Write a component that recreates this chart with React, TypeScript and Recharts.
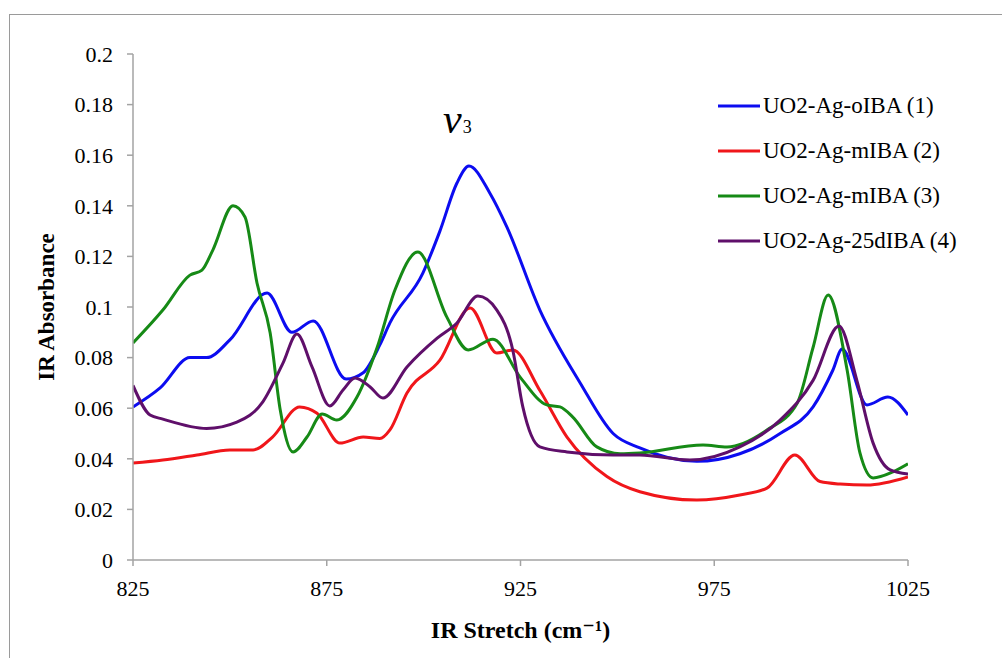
import { LineChart, Line, XAxis, YAxis, ReferenceDot } from "recharts";

const X_TICKS = [825, 875, 925, 975, 1025];
const Y_TICKS = [0, 0.02, 0.04, 0.06, 0.08, 0.1, 0.12, 0.14, 0.16, 0.18, 0.2];

const BLUE_X = [825, 832, 839.7, 844, 850, 859.6, 866, 871.5, 880, 884.4, 888.7, 891.3, 899.8, 904.2, 908.6, 911.7, 917.1, 921.5, 930, 940.4, 948.9, 955.8, 970.5, 981.6, 992, 1000.5, 1005.6, 1008, 1014.4, 1019.8, 1025];
const BLUE_Y = [0.0605, 0.068, 0.08, 0.08, 0.087, 0.1055, 0.09, 0.0945, 0.0715, 0.074, 0.085, 0.0937, 0.1134, 0.13, 0.149, 0.1557, 0.145, 0.1316, 0.0988, 0.07, 0.05, 0.0443, 0.039, 0.042, 0.05, 0.0605, 0.075, 0.0834, 0.0613, 0.0644, 0.0573];

const RED_X = [825, 832.7, 841.5, 850, 856, 861, 868, 872.5, 878.4, 884.4, 888.7, 891.3, 895.7, 904.2, 912, 918.9, 923, 930, 937, 947.3, 955.8, 970.5, 981.6, 988.6, 995.8, 1002.3, 1007.5, 1014.4, 1025];
const RED_Y = [0.0383, 0.0395, 0.0415, 0.0435, 0.0435, 0.0486, 0.0605, 0.058, 0.0462, 0.0486, 0.048, 0.0514, 0.066, 0.079, 0.0996, 0.0818, 0.083, 0.067, 0.0486, 0.033, 0.027, 0.0237, 0.0257, 0.0284, 0.0415, 0.031, 0.03, 0.0296, 0.0328];

const GREEN_X = [825, 832.7, 839.7, 842.8, 845.6, 850.8, 853.9, 857, 860.4, 863, 866.3, 869.9, 873.8, 877.6, 882.8, 888, 892.6, 898.5, 906, 911.5, 917.9, 924.9, 931.8, 935.2, 938.5, 944.7, 950.7, 955.8, 972.1, 978.3, 988.6, 996.4, 1000.5, 1004.4, 1009.3, 1012.6, 1016, 1021.1, 1025];
const GREEN_Y = [0.0858, 0.0988, 0.1126, 0.1146, 0.1225, 0.14, 0.1356, 0.1095, 0.0897, 0.0593, 0.0427, 0.0486, 0.0577, 0.0553, 0.0644, 0.084, 0.1067, 0.1217, 0.096, 0.083, 0.0873, 0.0723, 0.0613, 0.0605, 0.0565, 0.0447, 0.042, 0.0423, 0.0455, 0.0447, 0.0514, 0.062, 0.084, 0.1047, 0.075, 0.0423, 0.0324, 0.0348, 0.038];

const PURPLE_X = [825, 829.4, 832.7, 844, 851.8, 858.5, 863.7, 867.3, 871.2, 875.8, 879.2, 882.3, 886.2, 889.5, 895.7, 903.5, 908.6, 914, 918.9, 923, 925.6, 930, 937, 948.9, 955.8, 968.7, 981.6, 992, 1000.5, 1007.2, 1011.8, 1016, 1020.4, 1025];
const PURPLE_Y = [0.069, 0.0573, 0.0557, 0.052, 0.0545, 0.0625, 0.0778, 0.0893, 0.0763, 0.0609, 0.0672, 0.0719, 0.0684, 0.064, 0.0763, 0.0877, 0.0937, 0.1043, 0.0988, 0.083, 0.0605, 0.0447, 0.0427, 0.0415, 0.0415, 0.0395, 0.0447, 0.0553, 0.071, 0.0925, 0.071, 0.0462, 0.0356, 0.034];

const SERIES = [
  { name: "UO2-Ag-oIBA (1)", color: "#0c0cf0", xs: BLUE_X, ys: BLUE_Y },
  { name: "UO2-Ag-mIBA (2)", color: "#f0161a", xs: RED_X, ys: RED_Y },
  { name: "UO2-Ag-mIBA (3)", color: "#168a16", xs: GREEN_X, ys: GREEN_Y },
  { name: "UO2-Ag-25dIBA (4)", color: "#5f0f6a", xs: PURPLE_X, ys: PURPLE_Y },
];

const FONT = "Liberation Serif, DejaVu Serif, serif";
const AXIS_GREY = "#a3a3a3";

const toRows = (xs: number[], ys: number[]) => xs.map((x, i) => ({ x, y: ys[i] }));

// legend drawn as plain html so it does not eat into the plot area
function LegendBox() {
  return (
    <div
      style={{
        position: "absolute",
        left: 716,
        top: 83,
        fontFamily: FONT,
        fontSize: 23,
        color: "#000",
      }}
    >
      {SERIES.map((s) => (
        <div key={s.name} style={{ display: "flex", alignItems: "center", height: 45 }}>
          <svg width={46} height={6} style={{ marginRight: 1 }}>
            <line x1={2} y1={3} x2={44} y2={3} stroke={s.color} strokeWidth={3} />
          </svg>
          <span style={{ whiteSpace: "nowrap" }}>{s.name}</span>
        </div>
      ))}
    </div>
  );
}

function NuLabel(props: { viewBox?: { x?: number; y?: number } }) {
  const x = props.viewBox?.x ?? 0;
  const y = props.viewBox?.y ?? 0;
  return (
    <text x={x} y={y} fontFamily={FONT} fill="#000">
      <tspan fontSize={42} fontStyle="italic">ν</tspan>
      <tspan fontSize={18} dx={1}>3</tspan>
    </text>
  );
}

export default function App() {
  return (
    <div
      style={{
        position: "absolute",
        left: 0,
        top: 0,
        width: 1002,
        height: 658,
        background: "#fff",
        overflow: "hidden",
        fontFamily: FONT,
      }}
    >
      <div
        style={{
          position: "absolute",
          left: 9,
          top: 14,
          width: 993,
          height: 644,
          borderLeft: "1.5px solid #9a9a9a",
          borderTop: "1.5px solid #9a9a9a",
        }}
      />
      <LineChart
        width={1002}
        height={658}
        margin={{ top: 54, right: 94, bottom: 0, left: 0 }}
        style={{ fontFamily: FONT }}
      >
        <XAxis
          type="number"
          dataKey="x"
          domain={[825, 1025]}
          ticks={X_TICKS}
          allowDataOverflow
          height={98}
          stroke={AXIS_GREY}
          strokeWidth={1.5}
          tickSize={6}
          tickMargin={14}
          tick={{ fill: "#000", fontSize: 22, fontFamily: FONT }}
          label={{
            value: "IR Stretch (cm⁻¹)",
            position: "insideBottom",
            offset: 20,
            fill: "#000",
            fontSize: 24,
            fontWeight: "bold",
            fontFamily: FONT,
          }}
        />
        <YAxis
          type="number"
          dataKey="y"
          domain={[0, 0.2]}
          ticks={Y_TICKS}
          width={133}
          stroke={AXIS_GREY}
          strokeWidth={1.5}
          tickSize={6}
          tickMargin={14}
          tickFormatter={(v: number) => String(+v.toFixed(2))}
          tick={{ fill: "#000", fontSize: 22, fontFamily: FONT }}
          label={{
            value: "IR Absorbance",
            angle: -90,
            position: "insideLeft",
            offset: 46,
            fill: "#000",
            fontSize: 23,
            fontWeight: "bold",
            fontFamily: FONT,
            style: { textAnchor: "middle" },
          }}
        />
        {SERIES.map((s) => (
          <Line
            key={s.name}
            data={toRows(s.xs, s.ys)}
            dataKey="y"
            name={s.name}
            type="monotone"
            stroke={s.color}
            strokeWidth={3}
            dot={false}
            isAnimationActive={false}
          />
        ))}
        <ReferenceDot
          x={905}
          y={0.1688}
          r={0}
          fill="none"
          stroke="none"
          ifOverflow="visible"
          label={<NuLabel />}
        />
      </LineChart>
      <LegendBox />
    </div>
  );
}
